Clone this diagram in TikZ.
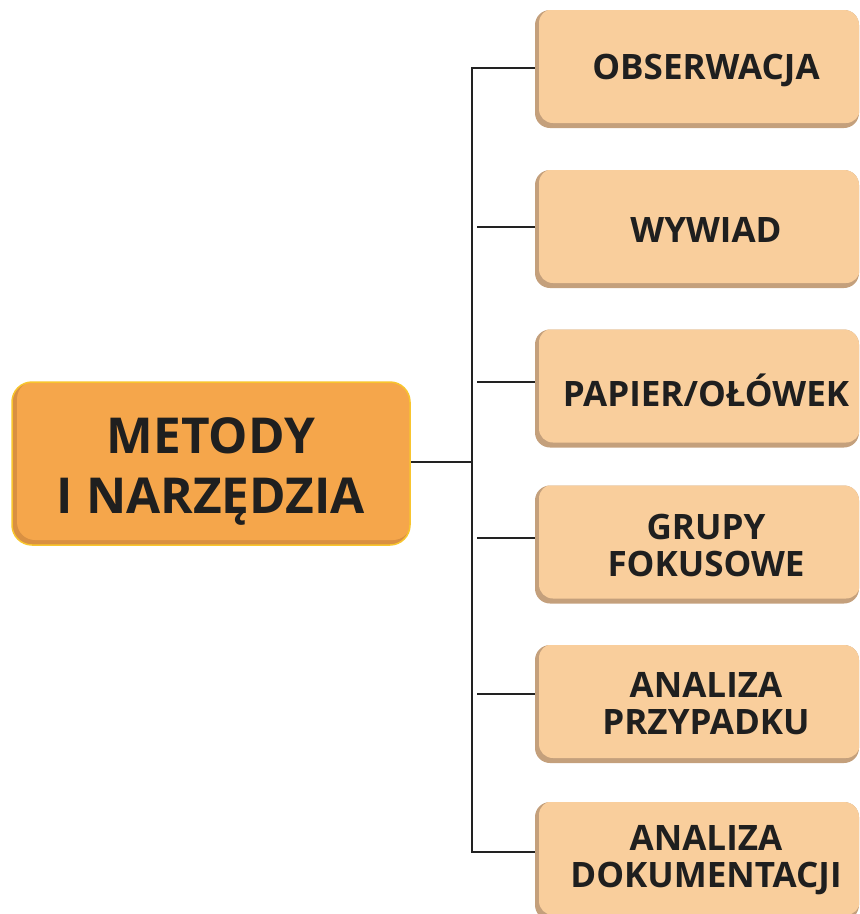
\documentclass[tikz,border=0pt]{standalone}
\usepackage{fontspec}
\setmainfont{Open Sans}
\definecolor{mainfill}{HTML}{F5A64B}
\definecolor{mainedge}{HTML}{D99042}
\definecolor{mainline}{HTML}{F8C52E}
\definecolor{subfill}{HTML}{F9CE9C}
\definecolor{subedge}{HTML}{C4A07C}
\definecolor{linecol}{HTML}{222222}
\tikzset{
  mainbox/.style={rounded corners=20pt, fill=mainedge, draw=mainline, line width=1.5pt,
    minimum width=398pt, minimum height=163pt, inner sep=0pt, align=center,
    path picture={\fill[mainfill, rounded corners=18pt]
      ([xshift=5pt,yshift=5pt]path picture bounding box.south west) rectangle
      ([xshift=1pt,yshift=1pt]path picture bounding box.north east);}},
  maintext/.style={inner sep=0pt, align=center,
    font=\fontsize{49.5}{60}\selectfont\bfseries, text=black!88},
  subbox/.style={rounded corners=15pt, fill=subedge,
    minimum width=324pt, minimum height=118pt, inner sep=0pt,
    path picture={\fill[subfill, rounded corners=14pt]
      ([xshift=4pt,yshift=5pt]path picture bounding box.south west) rectangle
      ([xshift=1pt,yshift=1pt]path picture bounding box.north east);}},
  subtext/.style={inner sep=0pt, align=center,
    font=\fontsize{35}{37}\selectfont\bfseries, text=black!88},
  conn/.style={draw=linecol, line width=1.6pt}
}
\begin{document}
\begin{tikzpicture}[x=1pt,y=-1pt]
\useasboundingbox (0,0) rectangle (860,914);
\node[mainbox] (m) at (211,463.5) {};
\node[maintext] (mt) at (211,471) {METODY\\I NARZĘDZIA};
\node[subbox] (b1) at (697,69) {};
\node[subbox] (b2) at (697,229) {};
\node[subbox] (b3) at (697,388.5) {};
\node[subbox] (b4) at (697,544.5) {};
\node[subbox] (b5) at (697,704) {};
\node[subbox] (b6) at (697,861) {};
\node[subtext] (l1) at (706,70) {OBSERWACJA};
\node[subtext] (l2) at (706,230) {WYWIAD};
\node[subtext] (l3) at (706,390) {PAPIER/OŁÓWEK};
\node[subtext] (l4) at (706,545) {GRUPY\\FOKUSOWE};
\node[subtext] (l5) at (706,704) {ANALIZA\\PRZYPADKU};
\node[subtext] (l6) at (706,860) {ANALIZA\\DOKUMENTACJI};
\coordinate (top) at (472,68);
\coordinate (bot) at (472,852);
\coordinate (mid) at (472,462);
\coordinate (t2) at (477,227);
\coordinate (t3) at (477,382);
\coordinate (t4) at (477,538);
\coordinate (t5) at (477,694);
\draw[conn] (top -| b1.west) -- (top) -- (bot) -- (bot -| b6.west);
\draw[conn] (m.east |- mid) -- (mid);
\draw[conn] (t2) -- (t2 -| b2.west);
\draw[conn] (t3) -- (t3 -| b3.west);
\draw[conn] (t4) -- (t4 -| b4.west);
\draw[conn] (t5) -- (t5 -| b5.west);
\end{tikzpicture}
\end{document}
